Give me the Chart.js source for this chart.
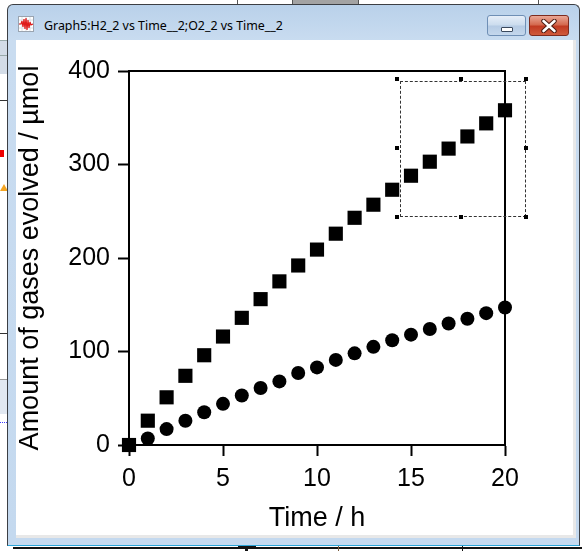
<!DOCTYPE html>
<html lang="en">
  <head>
    <meta charset="UTF-8" />
    <title>Graph5:H2_2 vs Time__2;O2_2 vs Time__2</title>
    <script src="https://cdn.jsdelivr.net/npm/chart.js"></script>
    <style>
      body { margin: 0; width: 582px; height: 551px; overflow: hidden; background: #fff; position: relative; }
      .abs { position: absolute; }
      .win { left: 7px; top: 4px; width: 571px; height: 540px; border: 1px solid #3c3f44; border-bottom-color: #2aa3d6;
             border-radius: 6px 6px 0 0; background: linear-gradient(#b9d1ea, #c9dcf0 36px, #c4d9ef); }
      .title { left: 44px; top: 18px; font: 12.4px "Noto Sans", sans-serif; line-height: 16px; color: #000; white-space: nowrap; }
      .btn { top: 15px; height: 19px; border-radius: 3px; }
      .min { left: 487px; width: 37px; border: 1px solid #6f8fb5; background: linear-gradient(#e6eef8, #cbdcee 48%, #b5cbe4 52%, #c4d7ec); }
      .close { left: 529px; width: 38px; border: 1px solid #7d2b1f; background: linear-gradient(#eaa796, #d4694f 46%, #c13a22 54%, #cf5a3c); }
      .client { left: 16px; top: 40px; width: 557px; height: 495px; background: #fff; }
      .marq { left: 400px; top: 81px; width: 124px; height: 134px; border: 1px dashed #333; }
      .h { width: 4px; height: 4px; background: #000; }
    </style>
  </head>
  <body>
    <!-- bits of the windows behind -->
    <div class="abs" style="left:237px;top:0;width:1px;height:5px;background:#555"></div>
    <div class="abs" style="left:292px;top:0;width:65px;height:5px;background:#a3a3a3;border-left:1px solid #555;border-right:1px solid #555"></div>
    <div class="abs" style="left:538px;top:0;width:1px;height:5px;background:#555"></div>
    <div class="abs" style="left:0;top:40px;width:7px;height:33px;background:#d3dce7;border-top:1px solid #9aa"></div>
    <div class="abs" style="left:0;top:55px;width:7px;height:1px;background:#9aa"></div>
    <div class="abs" style="left:0;top:100px;width:7px;height:1px;background:#333"></div>
    <div class="abs" style="left:0;top:150px;width:4px;height:7px;background:#e00"></div>
    <div class="abs" style="left:0;top:184px;width:0;height:0;border-left:4px solid transparent;border-right:4px solid transparent;border-bottom:7px solid #f5a623"></div>
    <div class="abs" style="left:0;top:333px;width:7px;height:1px;background:#333"></div>
    <div class="abs" style="left:0;top:379px;width:7px;height:34px;background:#e1e8f1;border-top:1px solid #999"></div>
    <div class="abs" style="left:0;top:422px;width:7px;height:1px;border-top:1px dotted #3c3cff"></div>
    <div class="abs" style="left:13px;top:547px;width:569px;height:2px;background:#111"></div>
    <div class="abs" style="left:238px;top:545px;width:18px;height:3px;background:#111"></div>
    <div class="abs" style="left:245px;top:548px;width:3px;height:3px;background:#111"></div>
    <div class="abs" style="left:338px;top:545px;width:1px;height:6px;background:#7a5a3a"></div>
    <div class="abs" style="left:462px;top:545px;width:1px;height:6px;background:#111"></div>

    <!-- the Igor graph window -->
    <div class="abs win"></div>
    <svg class="abs" style="left:18px;top:16px" width="16" height="16">
      <rect x="0.5" y="0.5" width="15" height="15" fill="#fff" stroke="#9aa4b0" />
      <path d="M4 1V15M8 1V15M12 1V15M1 4H15M1 8H15M1 12H15" stroke="#dcdfe4" stroke-width="1" />
      <polyline points="1,8 3,8 4,5 5,11 6,3 7,13 8,2 9,14 10,4 11,12 12,6 13,9 15,8" fill="none" stroke="#e01b1b" stroke-width="1.2" />
    </svg>
    <div class="abs title">Graph5:H2_2 vs Time__2;O2_2 vs Time__2</div>
    <div class="abs btn min">
      <div class="abs" style="left:13px;top:11px;width:10px;height:3px;background:#fff;border:1px solid #3b4a5e;border-radius:1px"></div>
    </div>
    <div class="abs btn close">
      <svg class="abs" style="left:11px;top:3px" width="16" height="14">
        <path d="M2.5 2L13.5 12M13.5 2L2.5 12" stroke="#4a1a12" stroke-width="4.5" stroke-linecap="round" />
        <path d="M2.5 2L13.5 12M13.5 2L2.5 12" stroke="#fff" stroke-width="2.6" stroke-linecap="round" />
      </svg>
    </div>
    <div class="abs" style="left:16px;top:535px;width:560px;height:3px;background:#e8e8e8"></div>
    <div class="abs" style="left:573px;top:40px;width:3px;height:498px;background:#e8e8e8"></div>
    <div class="abs client">
      <canvas id="myChart" width="557" height="495"></canvas>
    </div>

    <!-- marquee -->
    <div class="abs marq"></div>
    <div class="abs h" style="left:395px;top:77px"></div>
    <div class="abs h" style="left:459px;top:77px"></div>
    <div class="abs h" style="left:524px;top:77px"></div>
    <div class="abs h" style="left:395px;top:146px"></div>
    <div class="abs h" style="left:524px;top:146px"></div>
    <div class="abs h" style="left:395px;top:215px"></div>
    <div class="abs h" style="left:459px;top:215px"></div>
    <div class="abs h" style="left:524px;top:215px"></div>

    <script>
      // data
      const timeH = [0, 1, 2, 3, 4, 5, 6, 7, 8, 9, 10, 11, 12, 13, 14, 15, 16, 17, 18, 19, 20];
      const h2 = [0, 26, 51, 74, 96, 116, 136, 156, 175, 192, 209, 226, 243, 257, 273, 288, 303, 317, 330, 344, 358];
      const o2 = [0, 7, 17, 26, 35, 44, 53, 61, 68, 77, 83, 91, 98, 105, 112, 118, 124, 130, 135, 141, 147];
      const xTicks = [0, 5, 10, 15, 20];
      const yTicks = [0, 100, 200, 300, 400];

      const family = "'Liberation Sans', Arial, sans-serif";
      const tickFont = { family: family, size: 25 };
      const titleFont = { family: family, size: 27 };

      //box round the plot, like Igor's frame
      const framePlugin = {
        id: "frame",
        beforeDatasetsDraw(chart) {
          const { ctx, chartArea: a } = chart;
          ctx.save();
          ctx.strokeStyle = "#000";
          ctx.lineWidth = 2;
          ctx.strokeRect(a.left, a.top, a.right - a.left, a.bottom - a.top);
          ctx.restore();
        },
      };

      const axis = (ticks, title, size, pad, titlePad) => ({
        type: "linear",
        min: ticks[0],
        max: ticks[ticks.length - 1],
        afterBuildTicks: (s) => { s.ticks = ticks.map((v) => ({ value: v })); },
        afterFit: (s) => { if (s.isHorizontal()) s.height = size; else s.width = size; },
        border: { color: "#000", width: 2 },
        grid: { drawOnChartArea: false, tickLength: 11, tickWidth: 2, color: "#000" },
        ticks: { color: "#000", font: tickFont, padding: pad, maxRotation: 0 },
        title: { display: true, text: title, color: "#000", font: titleFont, padding: titlePad },
      });

      const myChart = new Chart(document.getElementById("myChart"), {
        type: "scatter",
        data: {
          datasets: [
            {
              label: "H2_2",
              data: timeH.map((t, i) => ({ x: t, y: h2[i] })),
              pointStyle: "rect",
              pointRadius: 10,
              pointBorderWidth: 0,
              backgroundColor: "#000",
              clip: false,
            },
            {
              label: "O2_2",
              data: timeH.map((t, i) => ({ x: t, y: o2[i] })),
              pointStyle: "circle",
              pointRadius: 7,
              pointBorderWidth: 0,
              backgroundColor: "#000",
              clip: false,
            },
          ],
        },
        options: {
          responsive: false,
          animation: false,
          events: [],
          layout: { padding: { left: 0, right: 68, top: 31, bottom: 0 } },
          plugins: { legend: { display: false }, tooltip: { enabled: false } },
          scales: {
            x: axis(xTicks, "Time / h", 90, 8, { top: 0, bottom: 0 }),
            y: axis(yTicks, "Amount of gases evolved / µmol", 113, 8, { top: -2, bottom: 0 }),
          },
        },
        plugins: [framePlugin],
      });
    </script>
  </body>
</html>
